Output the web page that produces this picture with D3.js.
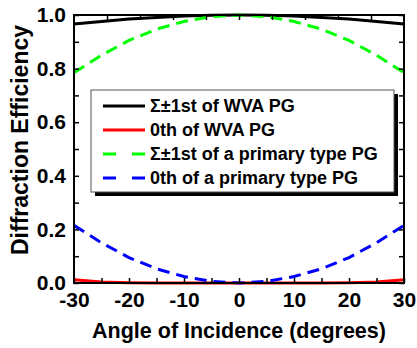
<!DOCTYPE html>
<html>
<head>
<meta charset="utf-8">
<script src="https://cdn.jsdelivr.net/npm/d3@7"></script>
<style>
  body { margin: 0; background: #fff; }
  svg { font-family: "Liberation Sans", Arial, sans-serif; font-weight: bold; }
</style>
</head>
<body>
<svg id="chart" width="417" height="348"></svg>
<script>
// angles of incidence (degrees)
const angles = [-30, -25, -20, -15, -10, -5, 0, 5, 10, 15, 20, 25, 30];
const wvaFirst = [0.966, 0.976, 0.985, 0.991, 0.996, 0.999, 1.0, 0.999, 0.996, 0.991, 0.985, 0.976, 0.966];
const wvaZero = [0.012, 0.004, 0.001, 0, 0, 0, 0, 0, 0, 0, 0.001, 0.004, 0.012];
const primFirst = [0.785, 0.85, 0.905, 0.947, 0.976, 0.994, 1.0, 0.994, 0.976, 0.947, 0.905, 0.85, 0.785];
const primZero = [0.215, 0.15, 0.095, 0.053, 0.024, 0.006, 0, 0.006, 0.024, 0.053, 0.095, 0.15, 0.215];

const seriesNames = ["\u03A3\u00B11st of WVA PG", "0th of WVA PG", "\u03A3\u00B11st of a primary type PG", "0th of a primary type PG"];
const seriesColors = ["#000000", "#ff0000", "#00ff00", "#0000ff"];
const seriesDashed = [false, false, true, true];
const seriesValues = [wvaFirst, wvaZero, primFirst, primZero];

const xTicks = [-30, -20, -10, 0, 10, 20, 30];
const yTicks = [0.0, 0.2, 0.4, 0.6, 0.8, 1.0];

const svg = d3.select("#chart");
const mLeft = 74, mRight = 404, mTop = 15, mBottom = 283;

const x = d3.scaleLinear().domain([-30, 30]).range([mLeft, mRight]);
const y = d3.scaleLinear().domain([0, 1]).range([mBottom, mTop]);

// plot lines (drawn first so the frame sits above)
const line = d3.line().x((d, i) => x(angles[i])).y(d => y(d));
const plot = svg.append("g");
seriesValues.forEach((vals, k) => {
    plot.append("path")
        .datum(vals)
        .attr("d", line)
        .attr("fill", "none")
        .attr("stroke", seriesColors[k])
        .attr("stroke-width", 3)
        .attr("stroke-dasharray", seriesDashed[k] ? "12,7" : null);
});

// axes, ticks pointing inward
const tickLen = 5;
const axB = svg.append("g").attr("transform", `translate(0,${mBottom})`)
    .call(d3.axisBottom(x).tickValues(d3.range(-30, 31, 5)).tickSize(-tickLen).tickFormat(d => xTicks.includes(d) ? d : ""));
const axT = svg.append("g").attr("transform", `translate(0,${mTop})`)
    .call(d3.axisTop(x).tickValues(d3.range(-24, 25, 6)).tickSize(-tickLen).tickFormat(""));
const axL = svg.append("g").attr("transform", `translate(${mLeft},0)`)
    .call(d3.axisLeft(y).tickValues(d3.range(0, 1.01, 0.1)).tickSize(-tickLen)
        .tickFormat(d => yTicks.some(t => Math.abs(t - d) < 1e-6) ? d3.format(".1f")(d) : ""));
const axR = svg.append("g").attr("transform", `translate(${mRight},0)`)
    .call(d3.axisRight(y).tickValues(d3.range(0, 1.01, 0.1)).tickSize(-tickLen).tickFormat(""));

[axB, axT, axL, axR].forEach(a => {
    a.select(".domain").remove();
    a.selectAll(".tick line").attr("stroke", "#000").attr("stroke-width", 1.5);
    a.selectAll("text").attr("font-size", 21).attr("font-weight", "bold").attr("fill", "#000")
        .attr("font-family", "Liberation Sans, Arial, sans-serif");
});
axB.selectAll("text").attr("y", 9).attr("dy", "0.71em");
axL.selectAll("text").attr("x", -8);

svg.append("rect")
    .attr("x", mLeft).attr("y", mTop)
    .attr("width", mRight - mLeft).attr("height", mBottom - mTop)
    .attr("fill", "none").attr("stroke", "#000").attr("stroke-width", 2);

// axis titles
svg.append("text")
    .attr("x", (mLeft + mRight) / 2).attr("y", 338)
    .attr("text-anchor", "middle").attr("font-size", 21.5)
    .text("Angle of Incidence (degrees)");
svg.append("text")
    .attr("transform", "translate(28,140) rotate(-90)")
    .attr("text-anchor", "middle").attr("font-size", 23)
    .text("Diffraction Efficiency");

// legend
const lg = svg.append("g");
const lx = 91, ly = 90, lw = 303, lh = 102;
lg.append("rect").attr("x", lx + 4).attr("y", ly + 4).attr("width", lw).attr("height", lh).attr("fill", "#000");
lg.append("rect").attr("x", lx).attr("y", ly).attr("width", lw).attr("height", lh)
    .attr("fill", "#fff").attr("stroke", "#555").attr("stroke-width", 1);
seriesNames.forEach((name, k) => {
    const ry = 106 + k * 24;
    lg.append("line")
        .attr("x1", 103).attr("x2", 145).attr("y1", ry).attr("y2", ry)
        .attr("stroke", seriesColors[k]).attr("stroke-width", 3)
        .attr("stroke-dasharray", seriesDashed[k] ? "13,16" : null);
    lg.append("text")
        .attr("x", 150).attr("y", ry).attr("dy", "0.35em")
        .attr("font-size", 18)
        .text(name);
});
</script>
</body>
</html>
